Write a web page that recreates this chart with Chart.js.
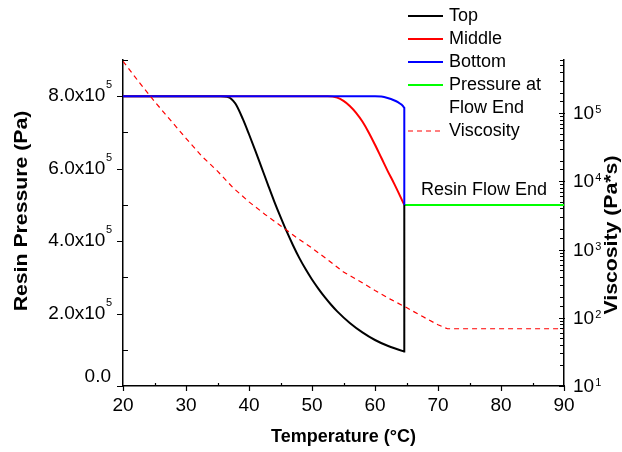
<!DOCTYPE html>
<html>
<head>
<meta charset="utf-8">
<script src="https://cdn.jsdelivr.net/npm/chart.js@4.4.1/dist/chart.umd.min.js"></script>
<style>
  html, body { margin: 0; padding: 0; background: #fff; }
  #wrap { width: 622px; height: 452px; }
</style>
</head>
<body>
<div id="wrap"><canvas id="chart1" width="622" height="452"></canvas></div>
<script>
// temperatures (°C) and resin pressure (Pa)
const topTemp = [20, 35.5, 36.5, 37, 37.5, 38, 39, 40, 41, 42, 43, 44, 45, 46, 47, 48, 49, 50, 51, 52, 53, 54, 56, 58, 60, 62, 64.55, 64.65, 64.65];
const topPressure = [8.0e5, 8.0e5, 7.985e5, 7.95e5, 7.87e5, 7.75e5, 7.38e5, 6.95e5, 6.5e5, 6.03e5, 5.56e5, 5.1e5, 4.67e5, 4.26e5, 3.88e5, 3.53e5, 3.22e5, 2.94e5, 2.69e5, 2.46e5, 2.25e5, 2.06e5, 1.74e5, 1.48e5, 1.27e5, 1.11e5, 0.955e5, 0.95e5, 5.0e5];

const midTemp = [20, 52.5, 54, 55, 56, 57, 58, 59, 60, 61, 62, 63, 64.65];
const midPressure = [8.0e5, 8.0e5, 7.96e5, 7.87e5, 7.73e5, 7.54e5, 7.3e5, 7.0e5, 6.66e5, 6.3e5, 5.94e5, 5.6e5, 5.0e5];

const botTemp = [20, 60, 61, 62, 63, 63.7, 64.2, 64.6, 64.65, 64.65];
const botPressure = [8.0e5, 8.0e5, 7.99e5, 7.95e5, 7.89e5, 7.83e5, 7.77e5, 7.69e5, 7.67e5, 5.0e5];

const endTemp = [64.65, 90];
const endPressure = [5.0e5, 5.0e5];

// viscosity (Pa*s), right log axis
const viscTemp = [20, 22.5, 25, 27.5, 30, 32.5, 35, 37.5, 40, 42.5, 45, 47.5, 50, 52.5, 55, 57.5, 60, 62.5, 65, 67.5, 70, 71.5, 90];
const viscosity = [5.75e5, 2.88e5, 1.48e5, 7.94e4, 4.27e4, 2.34e4, 1.41e4, 8.0e3, 5.0e3, 3.3e3, 2.24e3, 1.51e3, 1.05e3, 708, 468, 347, 251, 186, 141, 105, 79, 69, 69];

const FONT = '"Liberation Sans", Arial, sans-serif';

const pts = (xs, ys) => xs.map((x, i) => ({x: x, y: ys[i]}));
const isDecade = v => Math.abs(Math.log10(v) - Math.round(Math.log10(v))) < 1e-9;

// tick marks: major ones out, minor ones in (like the original plot)
const tickMarks = {
    id: 'tickMarks',
    afterDraw(chart) {
        const ctx = chart.ctx;
        const a = chart.chartArea;
        const sx = chart.scales.x, sy = chart.scales.y, sv = chart.scales.y1;
        ctx.save();
        ctx.strokeStyle = '#000';
        ctx.lineWidth = 1.2;
        ctx.beginPath();
        sx.ticks.forEach(t => {
            const p = Math.round(sx.getPixelForValue(t.value)) + 0.5;
            if (t.value % 10 === 0) { ctx.moveTo(p, a.bottom); ctx.lineTo(p, a.bottom + 5); }
            else { ctx.moveTo(p, a.bottom); ctx.lineTo(p, a.bottom - 3); }
        });
        sy.ticks.forEach(t => {
            const p = Math.round(sy.getPixelForValue(t.value)) + 0.5;
            if (t.value % 2e5 === 0) { ctx.moveTo(a.left, p); ctx.lineTo(a.left - 6, p); }
            else { ctx.moveTo(a.left, p); ctx.lineTo(a.left + 5, p); }
        });
        sv.ticks.forEach(t => {
            const p = Math.round(sv.getPixelForValue(t.value)) + 0.5;
            if (isDecade(t.value)) { ctx.moveTo(a.right + 1, p); ctx.lineTo(a.right - 5, p); }
            else { ctx.moveTo(a.right, p); ctx.lineTo(a.right - 4, p); }
        });
        ctx.stroke();
        ctx.restore();
    }
};

// y tick labels with small raised exponents, and the two vertical titles
const axisText = {
    id: 'axisText',
    afterDraw(chart) {
        const ctx = chart.ctx;
        const a = chart.chartArea;
        const sy = chart.scales.y, sv = chart.scales.y1;
        ctx.save();
        ctx.fillStyle = '#000';
        ctx.textBaseline = 'alphabetic';
        sy.ticks.forEach(t => {
            const v = t.value;
            if (v % 2e5 !== 0) return;
            const p = sy.getPixelForValue(v);
            ctx.textAlign = 'right';
            if (v === 0) {
                ctx.font = '19px ' + FONT;
                ctx.fillText('0.0', a.left - 12, p - 4);
                return;
            }
            ctx.font = '11px ' + FONT;
            ctx.fillText('5', a.left - 11, p - 8);
            const w = ctx.measureText('5').width;
            ctx.font = '19px ' + FONT;
            ctx.fillText((v / 1e5).toFixed(1) + 'x10', a.left - 11.5 - w, p + 5);
        });
        sv.ticks.forEach(t => {
            const v = t.value;
            if (!isDecade(v)) return;
            const p = sv.getPixelForValue(v);
            ctx.textAlign = 'left';
            ctx.font = '19px ' + FONT;
            ctx.fillText('10', a.right + 9, p + 6);
            const w = ctx.measureText('10').width;
            ctx.font = '11px ' + FONT;
            ctx.fillText(String(Math.round(Math.log10(v))), a.right + 10 + w, p);
        });
        // vertical titles, both read bottom to top
        ctx.font = 'bold 18px ' + FONT;
        ctx.textAlign = 'center';
        ctx.textBaseline = 'middle';
        [['Resin Pressure (Pa)', 22, 211], ['Viscosity (Pa*s)', 612, 235]].forEach(([txt, x, y]) => {
            ctx.save();
            ctx.translate(x, y);
            ctx.rotate(-Math.PI / 2);
            ctx.scale(1.18, 1);
            ctx.fillText(txt, 0, 0);
            ctx.restore();
        });
        ctx.restore();
    }
};

// legend in the top right corner + "Resin Flow End" note
const sideText = {
    id: 'sideText',
    afterDraw(chart) {
        const ctx = chart.ctx;
        ctx.save();
        ctx.font = '18px ' + FONT;
        ctx.textBaseline = 'middle';
        ctx.textAlign = 'left';
        ctx.fillStyle = '#000';
        let y = 16;
        chart.data.datasets.forEach(ds => {
            ctx.strokeStyle = ds.borderColor;
            ctx.lineWidth = ds.borderDash ? 1.2 : 2;
            ctx.setLineDash(ds.borderDash || []);
            ctx.beginPath();
            ctx.moveTo(408, y);
            ctx.lineTo(443, y);
            ctx.stroke();
            ds.label.split('\n').forEach(line => {
                ctx.fillText(line, 449, y);
                y += 23;
            });
        });
        ctx.setLineDash([]);
        const sx = chart.scales.x, sy = chart.scales.y;
        ctx.textBaseline = 'alphabetic';
        ctx.fillText('Resin Flow End', sx.getPixelForValue(67.3), sy.getPixelForValue(5e5) - 10);
        ctx.restore();
    }
};

const config1 = {
    type: 'line',
    data: {
        datasets: [
            {label: 'Top', data: pts(topTemp, topPressure), borderColor: '#000000', yAxisID: 'y', order: 3},
            {label: 'Middle', data: pts(midTemp, midPressure), borderColor: '#ff0000', yAxisID: 'y', order: 2},
            {label: 'Bottom', data: pts(botTemp, botPressure), borderColor: '#0000ff', yAxisID: 'y', order: 1},
            {label: 'Pressure at\nFlow End', data: pts(endTemp, endPressure), borderColor: '#00ff00', yAxisID: 'y', order: 4},
            {label: 'Viscosity', data: pts(viscTemp, viscosity), borderColor: '#ff0000', borderWidth: 1.2,
             borderDash: [5, 4], cubicInterpolationMode: 'default', yAxisID: 'y1', order: 0}
        ]
    },
    options: {
        responsive: false,
        animation: false,
        layout: {padding: {top: 60, left: 0, right: 0, bottom: 0}},
        elements: {
            point: {radius: 0},
            line: {borderWidth: 2, cubicInterpolationMode: 'monotone', fill: false}
        },
        scales: {
            x: {
                type: 'linear',
                min: 20, max: 90,
                grid: {display: false, drawTicks: false},
                border: {display: true, color: '#000', width: 1.5},
                ticks: {
                    stepSize: 5, autoSkip: false, maxRotation: 0, padding: 8, color: '#000',
                    font: {family: FONT, size: 19},
                    callback: v => (v % 10 === 0 ? String(v) : '')
                },
                title: {display: true, text: 'Temperature (°C)', color: '#000',
                        font: {family: FONT, size: 18, weight: 'bold'}, padding: {bottom: 4, top: 0}},
                afterFit: s => { s.height = 66; }
            },
            y: {
                position: 'left',
                min: 0, max: 9e5,
                grid: {display: false, drawTicks: false},
                border: {display: true, color: '#000', width: 1.5},
                ticks: {stepSize: 1e5, autoSkip: false, display: false},
                afterFit: s => { s.width = 123; }
            },
            y1: {
                type: 'logarithmic',
                position: 'right',
                min: 10, max: 6e5,
                grid: {display: false, drawTicks: false},
                border: {display: true, color: '#000', width: 1.5},
                ticks: {autoSkip: false, display: false},
                afterFit: s => { s.width = 58; }
            }
        },
        plugins: {
            legend: {display: false},
            tooltip: {enabled: false}
        }
    },
    plugins: [tickMarks, axisText, sideText]
};

const ctx1 = document.getElementById('chart1').getContext('2d');
const chart1 = new Chart(ctx1, config1);
</script>
</body>
</html>
